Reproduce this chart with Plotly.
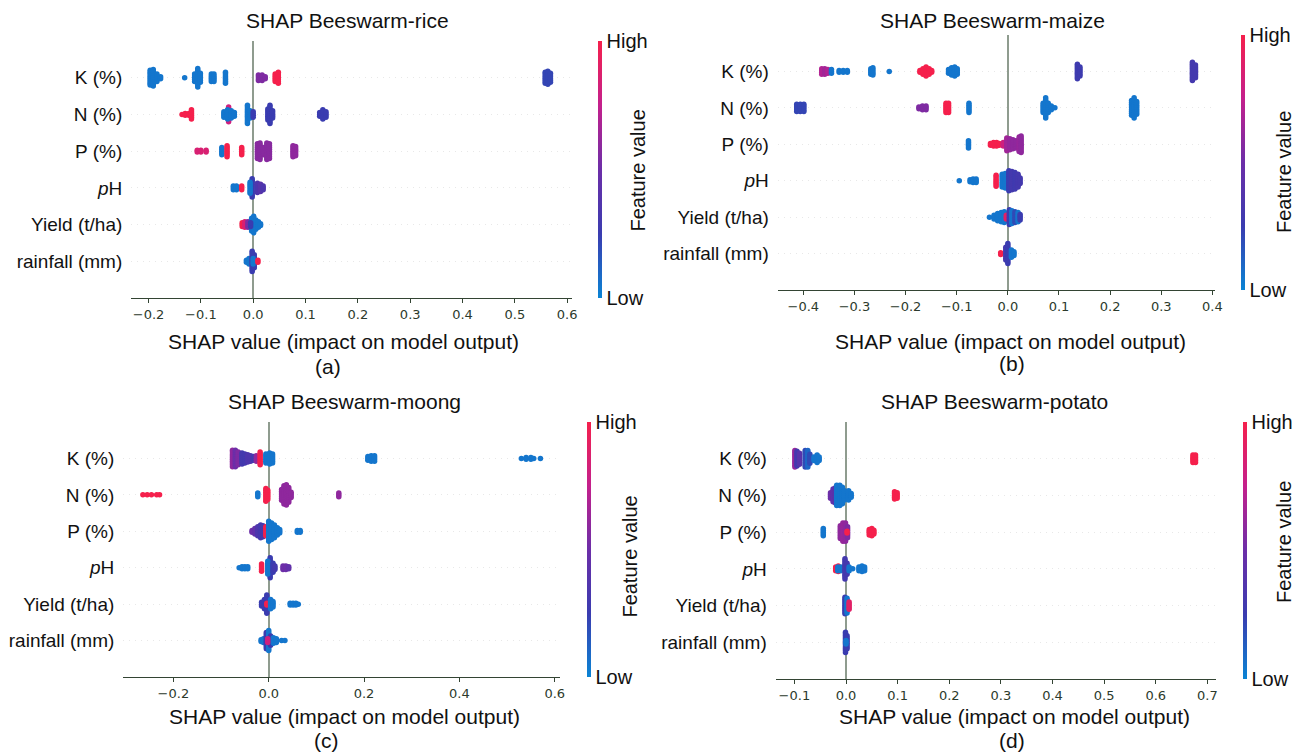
import plotly.graph_objects as go

W, H = 1299, 753

# rows from bottom (0) to top (5)
features = ["rainfall (mm)", "Yield (t/ha)", "<i>p</i>H", "P (%)", "N (%)", "K (%)"]
row_pos = [0, 1, 2, 3, 4, 5]

# clusters: (SHAP value, samples stacked at that value, feature value 0=low..1=high)
rice_k = [(-0.197, 9, 0.05), (-0.191, 10, 0.05), (-0.184, 5, 0.05), (-0.177, 2, 0.05),
          (-0.131, 1, 0.05), (-0.112, 5, 0.05), (-0.106, 11, 0.05), (-0.101, 6, 0.05),
          (-0.080, 5, 0.05), (-0.075, 5, 0.05), (-0.053, 7, 0.05),
          (0.010, 4, 0.55), (0.017, 4, 0.55), (0.023, 2, 0.55),
          (0.042, 5, 1.0), (0.048, 7, 1.0),
          (0.558, 7, 0.22), (0.563, 8, 0.22), (0.568, 6, 0.22)]
rice_n = [(-0.136, 1, 1.0), (-0.130, 2, 1.0), (-0.123, 2, 1.0), (-0.118, 6, 1.0),
          (-0.047, 9, 0.8), (-0.056, 4, 0.05), (-0.049, 6, 0.05), (-0.042, 5, 0.05), (-0.036, 3, 0.05),
          (-0.011, 11, 0.05), (-0.006, 5, 0.05), (0.000, 4, 0.25),
          (0.028, 7, 0.25), (0.032, 11, 0.25), (0.037, 5, 0.25),
          (0.127, 3, 0.25), (0.133, 6, 0.25), (0.139, 4, 0.25)]
rice_p = [(-0.107, 2, 0.85), (-0.100, 2, 0.85), (-0.090, 2, 0.85),
          (-0.060, 5, 0.05), (-0.050, 7, 1.0), (-0.022, 5, 1.0),
          (0.008, 9, 0.58), (0.013, 10, 0.58), (0.020, 5, 0.58), (0.026, 10, 0.58), (0.031, 9, 0.58),
          (0.076, 7, 0.6), (0.081, 6, 0.6)]
rice_ph = [(-0.038, 3, 0.05), (-0.032, 3, 0.05), (-0.022, 3, 1.0),
           (-0.002, 11, 0.25), (-0.006, 7, 0.05),
           (0.008, 6, 0.35), (0.014, 5, 0.4), (0.019, 3, 0.35)]
rice_yield = [(-0.021, 3, 1.0), (-0.016, 4, 0.85), (-0.010, 4, 0.55),
              (-0.003, 8, 0.05), (0.001, 10, 0.05), (0.005, 6, 0.05), (-0.005, 3, 0.25),
              (0.010, 4, 0.05), (0.014, 2, 0.05)]
rice_rain = [(-0.013, 2, 0.05), (-0.008, 4, 0.05),
             (-0.002, 12, 0.25), (0.002, 8, 0.25), (0.000, 4, 0.05), (0.009, 2, 1.0)]

maize_k = [(-0.364, 4, 0.7), (-0.358, 4, 0.65), (-0.352, 3, 0.7), (-0.345, 3, 0.05),
           (-0.330, 2, 0.05), (-0.322, 2, 0.05), (-0.314, 2, 0.05),
           (-0.268, 4, 0.05), (-0.264, 5, 0.05), (-0.232, 1, 0.05),
           (-0.172, 2, 1.0), (-0.166, 4, 1.0), (-0.160, 6, 1.0), (-0.154, 4, 1.0), (-0.149, 2, 1.0),
           (-0.116, 3, 0.05), (-0.110, 5, 0.05), (-0.104, 6, 0.05), (-0.099, 4, 0.05),
           (0.136, 9, 0.27), (0.141, 6, 0.27),
           (0.361, 11, 0.3), (0.367, 8, 0.3)]
maize_n = [(-0.413, 5, 0.22), (-0.406, 5, 0.22), (-0.399, 5, 0.22),
           (-0.174, 2, 0.55), (-0.167, 3, 0.55), (-0.160, 3, 0.55),
           (-0.121, 6, 1.0), (-0.116, 6, 1.0), (-0.076, 6, 0.05),
           (0.069, 6, 0.05), (0.074, 12, 0.05), (0.079, 6, 0.05), (0.085, 3, 0.05), (0.092, 1, 0.05),
           (0.242, 9, 0.05), (0.247, 12, 0.05), (0.252, 8, 0.05)]
maize_p = [(-0.077, 5, 0.05),
           (-0.034, 2, 1.0), (-0.028, 3, 1.0), (-0.022, 3, 1.0), (-0.017, 2, 1.0), (-0.009, 3, 0.8),
           (-0.002, 8, 0.65), (0.004, 7, 0.62), (0.010, 6, 0.6), (0.016, 5, 0.6),
           (0.022, 9, 0.62), (0.026, 10, 0.6)]
maize_ph = [(-0.095, 1, 0.05), (-0.074, 2, 0.05), (-0.068, 3, 0.05), (-0.062, 3, 0.05),
            (-0.023, 7, 1.0), (-0.011, 8, 0.05), (-0.005, 9, 0.05),
            (0.002, 12, 0.25), (0.008, 11, 0.3), (0.014, 10, 0.28), (0.020, 8, 0.3), (0.024, 4, 0.3)]
maize_yield = [(-0.036, 1, 0.05), (-0.027, 3, 0.05), (-0.020, 5, 0.05), (-0.013, 6, 0.05),
               (-0.007, 7, 0.05), (-0.003, 3, 0.9),
               (0.003, 9, 0.25), (0.008, 8, 0.05), (0.014, 7, 0.2), (0.020, 6, 0.05), (0.024, 4, 0.25)]
maize_rain = [(-0.014, 2, 1.0), (-0.004, 8, 0.3), (0.000, 12, 0.25),
              (0.007, 5, 0.05), (0.012, 3, 0.05)]

moong_k = [(-0.076, 10, 0.6), (-0.070, 10, 0.5), (-0.064, 8, 0.55),
           (-0.056, 7, 0.3), (-0.050, 6, 0.3), (-0.044, 5, 0.35), (-0.038, 4, 0.35), (-0.032, 3, 0.3),
           (-0.026, 4, 0.6), (-0.018, 8, 1.0),
           (-0.006, 6, 0.05), (0.002, 7, 0.05), (0.008, 6, 0.05),
           (0.208, 3, 0.05), (0.215, 4, 0.05), (0.222, 4, 0.05),
           (0.530, 1, 0.05), (0.540, 2, 0.05), (0.550, 2, 0.05), (0.556, 1, 0.05), (0.570, 1, 0.05)]
moong_n = [(-0.264, 1, 1.0), (-0.255, 1, 1.0), (-0.246, 1, 1.0), (-0.235, 1, 1.0), (-0.229, 1, 1.0),
           (-0.023, 3, 0.05), (-0.006, 8, 1.0), (-0.002, 6, 1.0),
           (0.027, 7, 0.6), (0.032, 11, 0.6), (0.037, 12, 0.6), (0.042, 9, 0.6), (0.047, 4, 0.6),
           (0.147, 3, 0.6)]
moong_p = [(-0.035, 2, 0.5), (-0.029, 4, 0.45), (-0.023, 6, 0.35), (-0.017, 8, 0.3), (-0.012, 7, 0.3),
           (-0.006, 6, 1.0),
           (0.000, 12, 0.05), (0.006, 10, 0.05), (0.012, 8, 0.05), (0.018, 5, 0.05), (0.023, 3, 0.05),
           (0.060, 2, 0.05), (0.066, 2, 0.05)]
moong_ph = [(-0.062, 1, 0.05), (-0.056, 2, 0.05), (-0.050, 2, 0.05), (-0.044, 2, 0.05),
            (-0.015, 5, 1.0),
            (0.003, 12, 0.25), (-0.002, 8, 0.05), (0.009, 6, 0.25), (0.013, 3, 0.3),
            (0.030, 3, 0.5), (0.036, 3, 0.5), (0.042, 2, 0.45)]
moong_yield = [(-0.015, 3, 0.25), (-0.009, 6, 0.25), (-0.004, 11, 0.25), (-0.004, 2, 1.0),
               (0.004, 6, 0.05), (0.009, 4, 0.05),
               (0.045, 2, 0.05), (0.051, 2, 0.05), (0.057, 2, 0.05), (0.062, 1, 0.05)]
moong_rain = [(-0.016, 2, 0.05), (-0.011, 3, 0.05),
              (-0.005, 10, 0.25), (0.000, 12, 0.05), (0.004, 6, 0.25), (-0.002, 3, 0.8),
              (0.010, 4, 0.05), (0.016, 3, 0.05), (0.027, 1, 0.05), (0.034, 1, 0.05)]

potato_k = [(-0.099, 10, 0.62), (-0.095, 9, 0.3), (-0.090, 7, 0.4),
            (-0.079, 10, 0.2), (-0.074, 10, 0.1), (-0.070, 6, 0.2),
            (-0.062, 3, 0.05), (-0.056, 5, 0.05), (-0.052, 3, 0.05),
            (0.672, 5, 1.0), (0.677, 5, 1.0)]
potato_n = [(-0.030, 4, 0.5), (-0.025, 8, 0.45), (-0.021, 9, 0.4),
            (-0.018, 12, 0.05), (-0.012, 12, 0.05), (-0.007, 10, 0.05), (-0.003, 6, 0.05),
            (0.005, 6, 0.05), (0.010, 3, 0.05),
            (0.094, 5, 1.0), (0.099, 4, 1.0)]
potato_p = [(-0.044, 5, 0.05),
            (-0.011, 8, 0.6), (-0.006, 11, 0.62), (-0.001, 11, 0.6), (0.003, 7, 0.55), (0.002, 2, 1.0),
            (0.045, 4, 1.0), (0.050, 5, 1.0), (0.054, 3, 1.0)]
potato_ph = [(-0.020, 3, 1.0), (-0.015, 4, 1.0), (-0.016, 3, 0.05), (-0.010, 3, 0.05),
             (-0.002, 12, 0.3), (0.002, 7, 0.3),
             (0.006, 3, 0.05), (0.013, 1, 0.05),
             (0.025, 3, 0.05), (0.031, 4, 0.05), (0.036, 3, 0.05)]
potato_yield = [(-0.002, 10, 0.25), (0.002, 9, 0.05), (0.006, 5, 0.9)]
potato_rain = [(-0.001, 12, 0.25), (0.002, 8, 0.25), (0.000, 3, 0.05)]

rice_ticks = [-0.2, -0.1, 0.0, 0.1, 0.2, 0.3, 0.4, 0.5, 0.6]
maize_ticks = [-0.4, -0.3, -0.2, -0.1, 0.0, 0.1, 0.2, 0.3, 0.4]
moong_ticks = [-0.2, 0.0, 0.2, 0.4, 0.6]
potato_ticks = [-0.1, 0.0, 0.1, 0.2, 0.3, 0.4, 0.5, 0.6, 0.7]

colorscale = [[0.0, "#0a84d4"], [0.25, "#3a3cb0"], [0.5, "#6c2ea8"],
              [0.75, "#c4208c"], [1.0, "#f5204c"]]

STEP = 0.05  # vertical spacing of stacked dots, in row units
TEXT = "Liberation Sans, Arial, sans-serif"
AXC = "#334433"


def px(x):
    return x / W


def py(y):
    return 1 - y / H


def swarm(rows):
    xs, ys, cs = [], [], []
    for pos, clusters in zip(row_pos, rows):
        for val, n, fv in clusters:
            for i in range(n):
                xs.append(val)
                ys.append(pos + (i - (n - 1) / 2) * STEP)
                cs.append(fv)
    return xs, ys, cs


panels = [
    dict(name="rice", rows=[rice_rain, rice_yield, rice_ph, rice_p, rice_n, rice_k],
         ticks=rice_ticks, xr=[-0.233, 0.609], box=(132, 575, 41, 298),
         cb=601, fv=(641, 171), title=(349, 21), xt=(345, 341), lab=(330, 366), letter="(a)"),
    dict(name="maize", rows=[maize_rain, maize_yield, maize_ph, maize_p, maize_n, maize_k],
         ticks=maize_ticks, xr=[-0.450, 0.406], box=(782, 1222, 35, 290),
         cb=1248, fv=(1291, 172), title=(998, 21), xt=(1016, 341), lab=(1017, 363), letter="(b)"),
    dict(name="moong", rows=[moong_rain, moong_yield, moong_ph, moong_p, moong_n, moong_k],
         ticks=moong_ticks, xr=[-0.305, 0.611], box=(124, 563, 422, 677),
         cb=590, fv=(633, 557), title=(346, 401), xt=(346, 716), lab=(328, 740), letter="(c)"),
    dict(name="potato", rows=[potato_rain, potato_yield, potato_ph, potato_p, potato_n, potato_k],
         ticks=potato_ticks, xr=[-0.136, 0.7175], box=(780, 1223, 422, 679),
         cb=1250, fv=(1291, 542), title=(1000, 401), xt=(1020, 716), lab=(1017, 740), letter="(d)"),
]

fig = go.Figure()
layout = dict(width=W, height=H, margin=dict(l=0, r=0, t=0, b=0),
              paper_bgcolor="white", plot_bgcolor="white", showlegend=False)
annotations = []

for k, p in enumerate(panels, start=1):
    sfx = "" if k == 1 else str(k)
    xs, ys, cs = swarm(p["rows"])
    fig.add_trace(go.Scatter(
        x=xs, y=ys, mode="markers", xaxis="x" + sfx, yaxis="y" + sfx,
        marker=dict(size=5.5, color=cs, coloraxis="coloraxis" + sfx, line=dict(width=0)),
        hoverinfo="skip"))
    x0, x1, y0, y1 = p["box"]
    layout["xaxis" + sfx] = dict(
        domain=[px(x0), px(x1)], anchor="y" + sfx, range=p["xr"],
        tickvals=p["ticks"], tickformat=".1f", ticks="outside", ticklen=4,
        tickcolor=AXC, showline=True, linecolor=AXC, linewidth=1.3, showgrid=False,
        zeroline=True, zerolinecolor="#8f9c8f", zerolinewidth=1.6,
        tickfont=dict(family="DejaVu Sans", size=13, color="#2c3a2c"))
    layout["yaxis" + sfx] = dict(
        domain=[py(y1), py(y0)], anchor="x" + sfx, range=[-1, 6],
        tickvals=row_pos, ticktext=features, ticks="", showline=False, zeroline=False,
        showgrid=True, gridcolor="#e8e8e8", gridwidth=0.6, griddash="1px,5px",
        ticklabelstandoff=8, tickfont=dict(family=TEXT, size=19, color="#111111"))
    layout["coloraxis" + sfx] = dict(
        colorscale=colorscale, cmin=0, cmax=1,
        colorbar=dict(x=px(p["cb"]), xanchor="left", xpad=0, ypad=0,
                      y=py((y0 + y1) / 2), yanchor="middle", lenmode="fraction",
                      len=(y1 - y0) / H, thickness=4, outlinewidth=0,
                      tickvals=[0, 1], ticktext=["Low", "High"], ticks="",
                      tickfont=dict(family=TEXT, size=20, color="#111111")))
    annotations += [
        dict(text="SHAP Beeswarm-" + p["name"], x=px(p["title"][0]), y=py(p["title"][1]),
             font=dict(family=TEXT, size=21, color="#111111")),
        dict(text="SHAP value (impact on model output)", x=px(p["xt"][0]), y=py(p["xt"][1]),
             font=dict(family=TEXT, size=21, color="#111111")),
        dict(text=p["letter"], x=px(p["lab"][0]), y=py(p["lab"][1]),
             font=dict(family=TEXT, size=21, color="#111111")),
        dict(text="Feature value", x=px(p["fv"][0]), y=py(p["fv"][1]), textangle=-90,
             font=dict(family=TEXT, size=20, color="#111111")),
    ]

for a in annotations:
    a.update(xref="paper", yref="paper", showarrow=False, xanchor="center", yanchor="middle")
layout["annotations"] = annotations
fig.update_layout(**layout)

# the page body has a default 8px margin; drop it so the figure fills the window
fig.write_html("out.html", config={"displayModeBar": False},
               post_script="document.body.style.margin = '0px';")
